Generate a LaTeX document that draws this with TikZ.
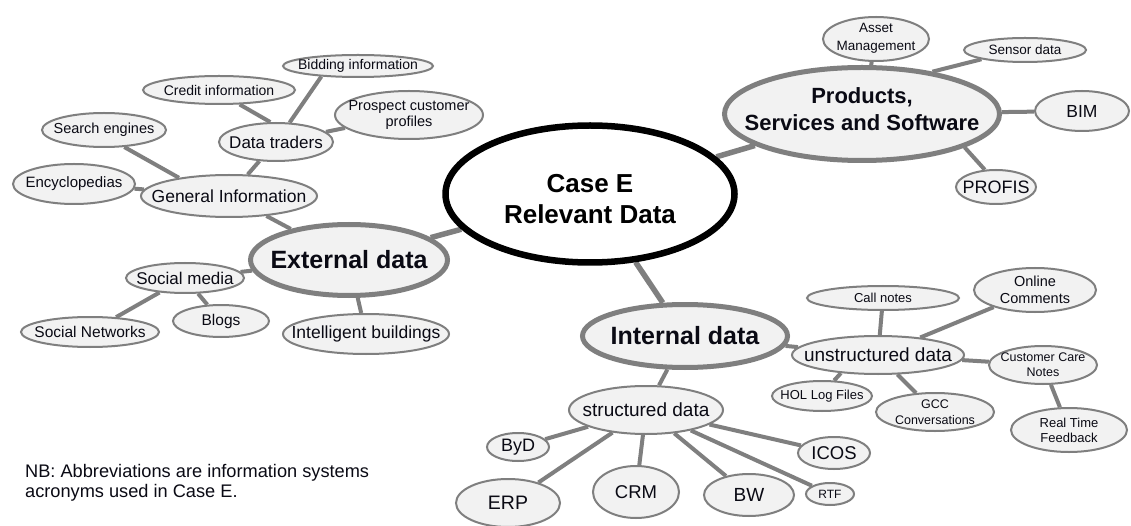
\documentclass[tikz,border=0pt]{standalone}
\usepackage{fontspec}
\setmainfont{Liberation Sans}
\usetikzlibrary{shapes.geometric}
\pgfdeclarelayer{bg}
\pgfsetlayers{bg,main}
\definecolor{edgegray}{HTML}{7F7F7F}
\definecolor{bubfill}{HTML}{F2F2F2}
\definecolor{ink}{HTML}{0A0A14}
\newcommand\fs[2]{\fontsize{#1pt}{#2pt}\selectfont}

\begin{document}
\begin{tikzpicture}[x=1pt,y=-1pt,
  bub/.style={ellipse, draw=edgegray, fill=bubfill, line width=2pt,
              inner sep=-400pt, text=ink, align=center},
  hub/.style={bub, line width=5pt},
  core/.style={ellipse, draw=black, fill=white, line width=6.5pt,
               inner sep=-400pt, text=black, align=center},
  link/.style={draw=edgegray, line width=4pt},
  trunk/.style={draw=edgegray, line width=5.5pt},
  note/.style={text=ink, align=left, inner sep=0pt}]

\useasboundingbox (0,0) rectangle (1131,526);

% central topic
\node[core, minimum width=289pt, minimum height=137pt, font={\fs{26}{31}\bfseries}]
  (core) at (590,194) {\rule{0pt}{29pt}Case E\\Relevant Data};

% products branch
\node[hub, minimum width=275pt, minimum height=93pt, font={\fs{22}{27}\bfseries}]
  (prod) at (862,114) {Products,\\Services and Software\rule[-10pt]{0pt}{0pt}};
\node[bub, minimum width=106pt, minimum height=44pt, font={\fs{13.5}{18}}]
  (asset) at (876,39) {Asset\\Management\rule[-5pt]{0pt}{0pt}};
\node[bub, minimum width=122pt, minimum height=24pt, font={\fs{13.5}{16}}]
  (sen) at (1025,50) {Sensor data};
\node[bub, minimum width=94pt, minimum height=40pt, font={\fs{17.5}{20}}]
  (bim) at (1082,111) {BIM};
\node[bub, minimum width=80pt, minimum height=34pt, font={\fs{18}{21}}]
  (prof) at (996,187) {PROFIS};

% external branch
\node[hub, minimum width=197pt, minimum height=71pt, font={\fs{25}{30}\bfseries}]
  (ext) at (349,260) {External data};
\node[bub, minimum width=176pt, minimum height=42pt, font={\fs{17.5}{20}}]
  (gen) at (229,196) {General Information};
\node[bub, minimum width=114pt, minimum height=38pt, font={\fs{17}{20}}]
  (dt) at (276,142) {Data traders};
\node[bub, minimum width=152pt, minimum height=28pt, font={\fs{14}{16}}]
  (cr) at (219,90) {Credit information};
\node[bub, minimum width=150pt, minimum height=22pt, font={\fs{14}{16}}]
  (bid) at (358,66) {Bidding information};
\node[bub, minimum width=148pt, minimum height=48pt, font={\fs{14.5}{16}}]
  (pro) at (409,115) {Prospect customer\\profiles};
\node[bub, minimum width=124pt, minimum height=34pt, font={\fs{14.5}{17}}]
  (se) at (104,130) {Search engines};
\node[bub, minimum width=122pt, minimum height=40pt, font={\fs{15}{18}}]
  (enc) at (74,184) {Encyclopedias};
\node[bub, minimum width=118pt, minimum height=30pt, font={\fs{17}{20}}]
  (sm) at (185,278) {Social media};
\node[bub, minimum width=138pt, minimum height=30pt, font={\fs{15.5}{18}}]
  (sn) at (90,332) {Social Networks};
\node[bub, minimum width=96pt, minimum height=32pt, font={\fs{15.5}{18}}]
  (blog) at (221,321) {Blogs};
\node[bub, minimum width=166pt, minimum height=40pt, font={\fs{17.5}{20}}]
  (ib) at (366,334) {Intelligent buildings};

% internal branch
\node[hub, minimum width=205pt, minimum height=63pt, font={\fs{25}{30}\bfseries}]
  (int) at (685,336) {Internal data};
\node[bub, minimum width=172pt, minimum height=38pt, font={\fs{19}{22}}]
  (uns) at (878,355) {unstructured data};
\node[bub, minimum width=154pt, minimum height=48pt, font={\fs{19}{22}}]
  (str) at (646,410) {structured data};
\node[bub, minimum width=152pt, minimum height=24pt, font={\fs{13}{15}}]
  (call) at (883,298) {Call notes};
\node[bub, minimum width=122pt, minimum height=44pt, font={\fs{14.5}{17}}]
  (onl) at (1035,290) {Online\\Comments};
\node[bub, minimum width=108pt, minimum height=38pt, font={\fs{12.5}{15}}]
  (cust) at (1043,365) {Customer Care\\Notes};
\node[bub, minimum width=116pt, minimum height=44pt, font={\fs{13}{15}}]
  (rt) at (1069,430) {Real Time\\Feedback};
\node[bub, minimum width=118pt, minimum height=38pt, font={\fs{12.5}{16}}]
  (gcc) at (935,412) {GCC\\Conversations};
\node[bub, minimum width=100pt, minimum height=30pt, font={\fs{13}{15}}]
  (hol) at (822,396) {HOL Log Files};
\node[bub, minimum width=72pt, minimum height=32pt, font={\fs{18.5}{21}}]
  (icos) at (834,453) {ICOS};
\node[bub, minimum width=48pt, minimum height=22pt, font={\fs{12}{14}}]
  (rtf) at (830,494) {RTF};
\node[bub, minimum width=90pt, minimum height=42pt, font={\fs{19}{22}}]
  (bw) at (749,495) {BW};
\node[bub, minimum width=86pt, minimum height=52pt, font={\fs{18.5}{21}}]
  (crm) at (636,492) {CRM};
\node[bub, minimum width=104pt, minimum height=48pt, font={\fs{19.5}{22}}]
  (erp) at (508,503) {ERP};
\node[bub, minimum width=62pt, minimum height=28pt, font={\fs{18}{21}}]
  (byd) at (518,447) {ByD};

% footnote
\node[note, anchor=north west, font={\fs{18.2}{20}}] (nb) at (25,464)
  {NB: Abbreviations are information systems\\acronyms used in Case E.};

% connectors, behind the bubbles
\begin{pgfonlayer}{bg}
  \fill[white] (0,0) rectangle (1131,526);
  \draw[trunk] (core) -- (prod);
  \draw[trunk] (core) -- (ext);
  \draw[trunk] (core) -- (int);
  \draw[link] (prod) -- (asset);
  \draw[link] (prod.31) -- (sen.192);
  \draw[link] (prod) -- (bim);
  \draw[link] (prod.342) -- (prof.123);
  \draw[link] (ext) -- (gen);
  \draw[link] (ext) -- (sm);
  \draw[link] (ext) -- (ib);
  \draw[link] (gen.160) -- (se.320);
  \draw[link] (gen) -- (enc);
  \draw[link] (gen) -- (dt);
  \draw[link] (dt.106) -- (cr.325);
  \draw[link] (dt.55) -- (bid.196);
  \draw[link] (dt) -- (pro);
  \draw[link] (sm) -- (sn);
  \draw[link] (sm) -- (blog);
  \draw[link] (int) -- (uns);
  \draw[link] (int) -- (str);
  \draw[link] (str) -- (byd);
  \draw[link] (str) -- (erp);
  \draw[link] (str) -- (crm);
  \draw[link] (str) -- (bw);
  \draw[link] (str) -- (icos);
  \draw[link] (str) -- (rtf);
  \draw[link] (uns) -- (call);
  \draw[link] (uns) -- (onl);
  \draw[link] (uns) -- (cust);
  \draw[link] (uns) -- (gcc);
  \draw[link] (uns.206) -- (hol.52);
  \draw[link] (cust) -- (rt);
\end{pgfonlayer}
\end{tikzpicture}
\end{document}
